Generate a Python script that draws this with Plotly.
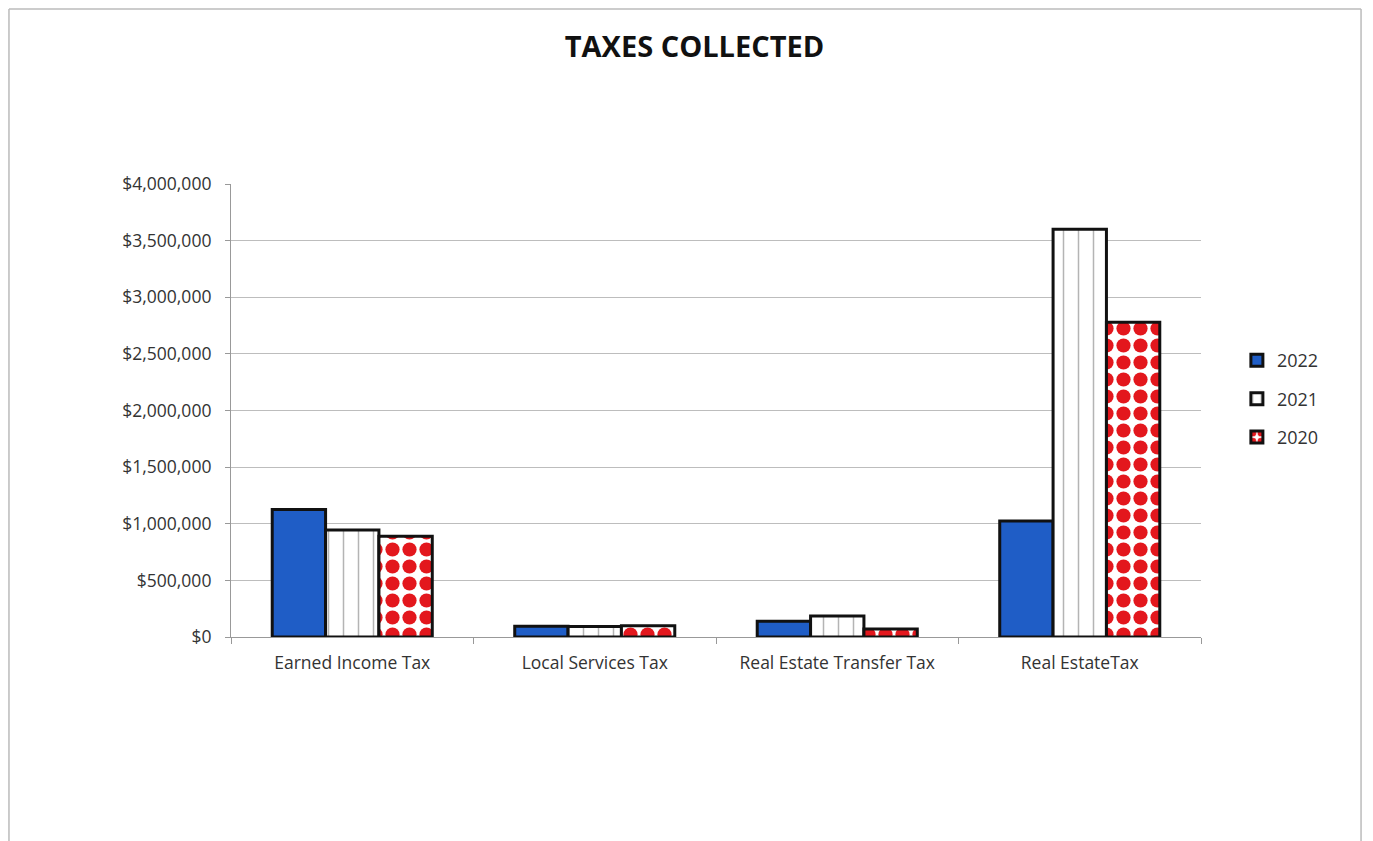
import plotly.graph_objects as go

categories = ["Earned Income Tax", "Local Services Tax", "Real Estate Transfer Tax", "Real EstateTax"]
years = ["2022", "2021", "2020"]
values_2022 = [1125000, 95000, 140000, 1025000]
values_2021 = [945000, 92000, 185000, 3600000]
values_2020 = [890000, 100000, 70000, 2780000]
y_ticks = [0, 500000, 1000000, 1500000, 2000000, 2500000, 3000000, 3500000, 4000000]
y_tick_labels = ["$0", "$500,000", "$1,000,000", "$1,500,000", "$2,000,000",
                 "$2,500,000", "$3,000,000", "$3,500,000", "$4,000,000"]

FONT = "Open Sans, Liberation Sans, sans-serif"
line = dict(color="#111111", width=3)
fig = go.Figure()
fig.add_trace(go.Bar(name=years[0], x=categories, y=values_2022, legendgroup="a",
                     marker=dict(color="#1F5DC6", line=line)))
fig.add_trace(go.Bar(name=years[1], x=categories, y=values_2021, legendgroup="b",
                     marker=dict(color="white", line=line,
                                 pattern=dict(shape="|", fgcolor="#B4B4B4", bgcolor="white",
                                              fgopacity=1, size=15, solidity=0.1))))
fig.add_trace(go.Bar(name=years[2], x=categories, y=values_2020, legendgroup="c",
                     marker=dict(color="white", line=line,
                                 pattern=dict(shape=".", fgcolor="#E3171D", bgcolor="white",
                                              fgopacity=1, size=17, solidity=0.55))))

frame = dict(color="#BBBBBB", width=1.5)
fig.update_layout(
    width=1373, height=841,
    paper_bgcolor="white", plot_bgcolor="white",
    margin=dict(l=223, r=180, t=176, b=212),
    barmode="group", bargap=0.34, bargroupgap=0,
    title=dict(text="<b>TAXES COLLECTED</b>", x=0.5, xanchor="center", y=0.954, yanchor="middle",
               font=dict(family=FONT, size=29, color="#111111")),
    font=dict(family=FONT, size=17, color="#333333"),
    legend=dict(x=1.037, y=0.651, xanchor="left", yanchor="top", traceorder="grouped",
                font=dict(size=18, color="#333333"), itemwidth=30, tracegroupgap=12),
    shapes=[
        dict(type="line", xref="paper", yref="paper", x0=-0.2289, x1=-0.2289, y0=-0.477, y1=1.3863, line=frame),
        dict(type="line", xref="paper", yref="paper", x0=-0.2289, x1=1.1650, y0=1.3863, y1=1.3863, line=frame),
        dict(type="line", xref="paper", yref="paper", x0=1.1650, x1=1.1650, y0=-0.477, y1=1.3863, line=frame),
    ],
)
fig.update_xaxes(showline=True, linecolor="#999999", linewidth=1.2, ticks="outside",
                 tickson="boundaries", ticklen=6, tickcolor="#999999", ticklabelstandoff=10,
                 tickfont=dict(size=17.5, color="#333333"))
fig.update_yaxes(range=[0, 4000000], tickvals=y_ticks, ticktext=y_tick_labels,
                 showgrid=True, gridcolor="#BDBDBD", gridwidth=1.2,
                 showline=True, linecolor="#999999", linewidth=1.2,
                 ticks="outside", ticklen=5, tickcolor="#999999", ticklabelstandoff=10,
                 tickfont=dict(size=17.5, color="#333333"), zeroline=False)

fig.write_html("out.html")
